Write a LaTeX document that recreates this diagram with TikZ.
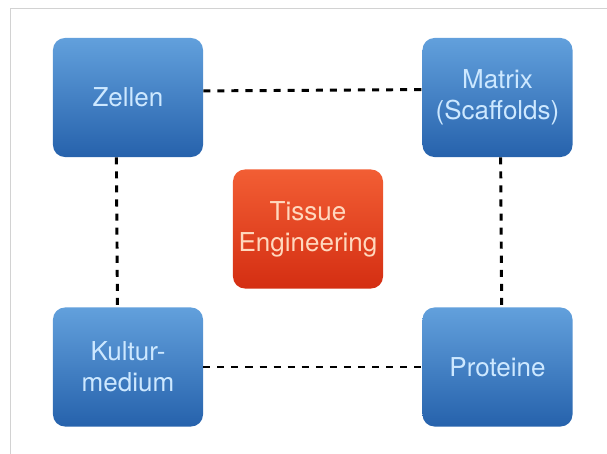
\documentclass[tikz,border=0pt]{standalone}
\usepackage{fontspec}
\setmainfont{TeX Gyre Heros}
\usepackage{tikz}

\definecolor{boxtop}{RGB}{98,160,220}
\definecolor{boxbottom}{RGB}{38,98,172}
\definecolor{boxtext}{RGB}{205,232,255}
\definecolor{coretop}{RGB}{242,94,52}
\definecolor{corebottom}{RGB}{212,46,18}
\definecolor{coretext}{RGB}{255,216,190}

\tikzset{
  part/.style={rounded corners=0.3cm, minimum width=3.75cm, minimum height=2.975cm,
    top color=boxtop, bottom color=boxbottom, text=boxtext, align=center,
    font=\fontsize{18.5}{22}\selectfont},
  core/.style={part, top color=coretop, bottom color=corebottom, text=coretext},
  link/.style={line width=2.1pt, dash pattern=on 5pt off 5pt}
}

\begin{document}
\begin{tikzpicture}[x=0.025cm,y=-0.025cm]
          \useasboundingbox (0,0) rectangle (607,454);
          \draw[gray!35, line width=0.6pt] (10,454) -- (10,8) -- (607,8);

          \node[part] (zellen) at (128,97.5) {Zellen};
          \node[part] (matrix) at (497.5,97.5) {Matrix\\(Scaffolds)};
          \node[part] (kultur) at (128,367) {Kultur-\\medium};
          \node[part] (proteine) at (497.5,367) {Proteine};
          \node[core] (tissue) at (308,229) {Tissue\\Engineering};

          \draw[link] (zellen.5.7) -- (matrix.174.3);
          \draw[link] (zellen.259.5) -- (kultur.100.5);
          \draw[link] (matrix.273.4) -- (proteine.86.6);
          \draw[link] (kultur.-0.8) -- (proteine.180.8);
        \end{tikzpicture}
\end{document}
